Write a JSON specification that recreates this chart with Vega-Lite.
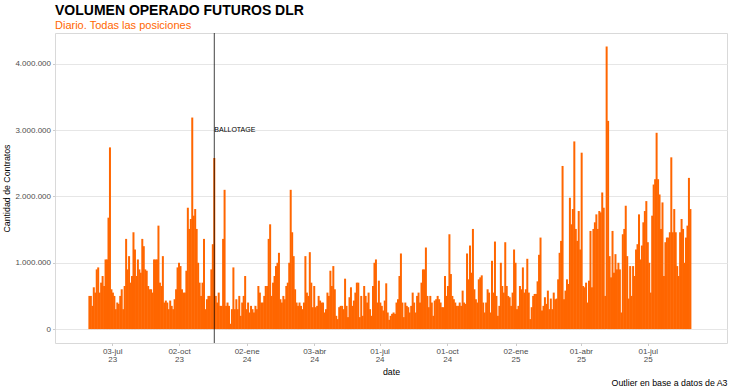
{
"$schema": "https://vega.github.io/schema/vega-lite/v6.json",
"width": 672, "height": 310,
"autosize": {"type": "none"},
"padding": {"left": 55, "top": 33, "right": 3, "bottom": 48},
"background": "white",
"title": {"text": "VOLUMEN OPERADO FUTUROS DLR", "subtitle": "Diario. Todas las posiciones", "anchor": "start", "frame": "group", "font": "Liberation Sans", "fontSize": 14, "fontWeight": "bold", "color": "#000000", "subtitleFont": "Liberation Sans", "subtitleFontSize": 11, "subtitleColor": "#ff6600", "subtitlePadding": 2, "offset": 2},
"config": {
  "font": "Liberation Sans",
  "view": {"stroke": "#d9d9d9", "strokeWidth": 1},
  "locale": {
    "number": {"decimal": ",", "thousands": ".", "grouping": [3], "currency": ["$", ""]},
    "time": {"dateTime": "%A, %e de %B de %Y, %X", "date": "%d/%m/%Y", "time": "%H:%M:%S", "periods": ["AM", "PM"],
      "days": ["domingo", "lunes", "martes", "miércoles", "jueves", "viernes", "sábado"],
      "shortDays": ["dom", "lun", "mar", "mié", "jue", "vie", "sáb"],
      "months": ["enero", "febrero", "marzo", "abril", "mayo", "junio", "julio", "agosto", "septiembre", "octubre", "noviembre", "diciembre"],
      "shortMonths": ["ene", "feb", "mar", "abr", "may", "jun", "jul", "ago", "sep", "oct", "nov", "dic"]}
  }
},
"resolve": {"axis": {"x": "independent"}},
"layer": [
{
  "data": {"values": [
{"d":"2023-06-02","v":500000},{"d":"2023-06-04","v":500000},{"d":"2023-06-06","v":350000},{"d":"2023-06-08","v":630000},{"d":"2023-06-10","v":550000},{"d":"2023-06-12","v":900000},{"d":"2023-06-14","v":930000},{"d":"2023-06-16","v":550000},{"d":"2023-06-18","v":700000},{"d":"2023-06-20","v":800000},{"d":"2023-06-22","v":650000},{"d":"2023-06-24","v":1050000},{"d":"2023-06-26","v":1050000},{"d":"2023-06-28","v":1680000},{"d":"2023-06-30","v":2740000},
{"d":"2023-07-02","v":600000},{"d":"2023-07-04","v":550000},{"d":"2023-07-06","v":500000},{"d":"2023-07-08","v":300000},{"d":"2023-07-10","v":400000},{"d":"2023-07-12","v":380000},{"d":"2023-07-14","v":500000},{"d":"2023-07-16","v":600000},{"d":"2023-07-18","v":300000},{"d":"2023-07-20","v":650000},{"d":"2023-07-22","v":1360000},{"d":"2023-07-24","v":900000},{"d":"2023-07-26","v":1100000},{"d":"2023-07-28","v":700000},{"d":"2023-07-30","v":800000},
{"d":"2023-08-01","v":1460000},{"d":"2023-08-03","v":1200000},{"d":"2023-08-05","v":800000},{"d":"2023-08-07","v":1050000},{"d":"2023-08-09","v":900000},{"d":"2023-08-11","v":850000},{"d":"2023-08-13","v":1360000},{"d":"2023-08-15","v":1250000},{"d":"2023-08-17","v":900000},{"d":"2023-08-19","v":880000},{"d":"2023-08-21","v":650000},{"d":"2023-08-23","v":600000},{"d":"2023-08-25","v":600000},{"d":"2023-08-27","v":550000},{"d":"2023-08-29","v":1050000},{"d":"2023-08-31","v":1050000},
{"d":"2023-09-02","v":1050000},{"d":"2023-09-04","v":1560000},{"d":"2023-09-06","v":700000},{"d":"2023-09-08","v":650000},{"d":"2023-09-10","v":1100000},{"d":"2023-09-12","v":400000},{"d":"2023-09-14","v":430000},{"d":"2023-09-16","v":400000},{"d":"2023-09-18","v":300000},{"d":"2023-09-20","v":430000},{"d":"2023-09-22","v":350000},{"d":"2023-09-24","v":300000},{"d":"2023-09-26","v":450000},{"d":"2023-09-28","v":600000},{"d":"2023-09-30","v":930000},
{"d":"2023-10-02","v":1000000},{"d":"2023-10-04","v":950000},{"d":"2023-10-06","v":600000},{"d":"2023-10-08","v":550000},{"d":"2023-10-10","v":550000},{"d":"2023-10-12","v":880000},{"d":"2023-10-14","v":1830000},{"d":"2023-10-16","v":1510000},{"d":"2023-10-18","v":1660000},{"d":"2023-10-20","v":3190000},{"d":"2023-10-22","v":1710000},{"d":"2023-10-24","v":1810000},{"d":"2023-10-26","v":1510000},{"d":"2023-10-28","v":1000000},{"d":"2023-10-30","v":700000},
{"d":"2023-11-01","v":500000},{"d":"2023-11-03","v":700000},{"d":"2023-11-05","v":1360000},{"d":"2023-11-07","v":300000},{"d":"2023-11-09","v":450000},{"d":"2023-11-11","v":500000},{"d":"2023-11-13","v":500000},{"d":"2023-11-15","v":900000},{"d":"2023-11-17","v":1280000},{"d":"2023-11-19","v":2580000},{"d":"2023-11-21","v":500000},{"d":"2023-11-23","v":400000},{"d":"2023-11-25","v":550000},{"d":"2023-11-27","v":350000},{"d":"2023-11-29","v":350000},
{"d":"2023-12-01","v":1360000},{"d":"2023-12-03","v":2100000},{"d":"2023-12-05","v":350000},{"d":"2023-12-07","v":400000},{"d":"2023-12-09","v":350000},{"d":"2023-12-11","v":80000},{"d":"2023-12-13","v":300000},{"d":"2023-12-15","v":930000},{"d":"2023-12-17","v":300000},{"d":"2023-12-19","v":450000},{"d":"2023-12-21","v":300000},{"d":"2023-12-23","v":500000},{"d":"2023-12-25","v":200000},{"d":"2023-12-27","v":400000},{"d":"2023-12-29","v":500000},{"d":"2023-12-31","v":800000},
{"d":"2024-01-02","v":300000},{"d":"2024-01-04","v":400000},{"d":"2024-01-06","v":250000},{"d":"2024-01-08","v":350000},{"d":"2024-01-10","v":300000},{"d":"2024-01-12","v":250000},{"d":"2024-01-14","v":350000},{"d":"2024-01-16","v":300000},{"d":"2024-01-18","v":650000},{"d":"2024-01-20","v":550000},{"d":"2024-01-22","v":400000},{"d":"2024-01-24","v":400000},{"d":"2024-01-26","v":500000},{"d":"2024-01-28","v":650000},{"d":"2024-01-30","v":650000},
{"d":"2024-02-01","v":1360000},{"d":"2024-02-03","v":1580000},{"d":"2024-02-05","v":500000},{"d":"2024-02-07","v":700000},{"d":"2024-02-09","v":800000},{"d":"2024-02-11","v":950000},{"d":"2024-02-13","v":1000000},{"d":"2024-02-15","v":1150000},{"d":"2024-02-17","v":450000},{"d":"2024-02-19","v":400000},{"d":"2024-02-21","v":500000},{"d":"2024-02-23","v":450000},{"d":"2024-02-25","v":650000},{"d":"2024-02-27","v":700000},{"d":"2024-02-29","v":1000000},
{"d":"2024-03-02","v":2100000},{"d":"2024-03-04","v":1460000},{"d":"2024-03-06","v":1100000},{"d":"2024-03-08","v":600000},{"d":"2024-03-10","v":400000},{"d":"2024-03-12","v":350000},{"d":"2024-03-14","v":400000},{"d":"2024-03-16","v":350000},{"d":"2024-03-18","v":300000},{"d":"2024-03-20","v":400000},{"d":"2024-03-22","v":1100000},{"d":"2024-03-24","v":550000},{"d":"2024-03-26","v":500000},{"d":"2024-03-28","v":1160000},{"d":"2024-03-30","v":700000},
{"d":"2024-04-01","v":330000},{"d":"2024-04-03","v":650000},{"d":"2024-04-05","v":330000},{"d":"2024-04-07","v":350000},{"d":"2024-04-09","v":500000},{"d":"2024-04-11","v":430000},{"d":"2024-04-13","v":400000},{"d":"2024-04-15","v":400000},{"d":"2024-04-17","v":250000},{"d":"2024-04-19","v":300000},{"d":"2024-04-21","v":550000},{"d":"2024-04-23","v":500000},{"d":"2024-04-25","v":880000},{"d":"2024-04-27","v":650000},{"d":"2024-04-29","v":950000},
{"d":"2024-05-01","v":600000},{"d":"2024-05-03","v":200000},{"d":"2024-05-05","v":150000},{"d":"2024-05-07","v":330000},{"d":"2024-05-09","v":350000},{"d":"2024-05-11","v":350000},{"d":"2024-05-13","v":300000},{"d":"2024-05-15","v":760000},{"d":"2024-05-17","v":350000},{"d":"2024-05-19","v":180000},{"d":"2024-05-21","v":480000},{"d":"2024-05-23","v":630000},{"d":"2024-05-25","v":350000},{"d":"2024-05-27","v":430000},{"d":"2024-05-29","v":550000},{"d":"2024-05-31","v":700000},
{"d":"2024-06-02","v":700000},{"d":"2024-06-04","v":180000},{"d":"2024-06-06","v":500000},{"d":"2024-06-08","v":200000},{"d":"2024-06-10","v":650000},{"d":"2024-06-12","v":500000},{"d":"2024-06-14","v":400000},{"d":"2024-06-16","v":550000},{"d":"2024-06-18","v":300000},{"d":"2024-06-20","v":200000},{"d":"2024-06-22","v":650000},{"d":"2024-06-24","v":1000000},{"d":"2024-06-26","v":1050000},{"d":"2024-06-28","v":400000},{"d":"2024-06-30","v":730000},
{"d":"2024-07-02","v":400000},{"d":"2024-07-04","v":350000},{"d":"2024-07-06","v":280000},{"d":"2024-07-08","v":430000},{"d":"2024-07-10","v":690000},{"d":"2024-07-12","v":250000},{"d":"2024-07-14","v":140000},{"d":"2024-07-16","v":200000},{"d":"2024-07-18","v":230000},{"d":"2024-07-20","v":250000},{"d":"2024-07-22","v":230000},{"d":"2024-07-24","v":400000},{"d":"2024-07-26","v":450000},{"d":"2024-07-28","v":800000},{"d":"2024-07-30","v":1140000},
{"d":"2024-08-01","v":400000},{"d":"2024-08-03","v":180000},{"d":"2024-08-05","v":400000},{"d":"2024-08-07","v":350000},{"d":"2024-08-09","v":330000},{"d":"2024-08-11","v":250000},{"d":"2024-08-13","v":350000},{"d":"2024-08-15","v":550000},{"d":"2024-08-17","v":400000},{"d":"2024-08-19","v":250000},{"d":"2024-08-21","v":500000},{"d":"2024-08-23","v":550000},{"d":"2024-08-25","v":400000},{"d":"2024-08-27","v":700000},{"d":"2024-08-29","v":900000},{"d":"2024-08-31","v":900000},
{"d":"2024-09-02","v":1230000},{"d":"2024-09-04","v":500000},{"d":"2024-09-06","v":330000},{"d":"2024-09-08","v":500000},{"d":"2024-09-10","v":400000},{"d":"2024-09-12","v":200000},{"d":"2024-09-14","v":430000},{"d":"2024-09-16","v":450000},{"d":"2024-09-18","v":500000},{"d":"2024-09-20","v":450000},{"d":"2024-09-22","v":400000},{"d":"2024-09-24","v":330000},{"d":"2024-09-26","v":330000},{"d":"2024-09-28","v":800000},{"d":"2024-09-30","v":500000},
{"d":"2024-10-02","v":650000},{"d":"2024-10-04","v":1430000},{"d":"2024-10-06","v":830000},{"d":"2024-10-08","v":500000},{"d":"2024-10-10","v":450000},{"d":"2024-10-12","v":400000},{"d":"2024-10-14","v":350000},{"d":"2024-10-16","v":350000},{"d":"2024-10-18","v":400000},{"d":"2024-10-20","v":350000},{"d":"2024-10-22","v":580000},{"d":"2024-10-24","v":400000},{"d":"2024-10-26","v":380000},{"d":"2024-10-28","v":1140000},{"d":"2024-10-30","v":750000},
{"d":"2024-11-01","v":1260000},{"d":"2024-11-03","v":850000},{"d":"2024-11-05","v":1510000},{"d":"2024-11-07","v":600000},{"d":"2024-11-09","v":450000},{"d":"2024-11-11","v":400000},{"d":"2024-11-13","v":750000},{"d":"2024-11-15","v":780000},{"d":"2024-11-17","v":810000},{"d":"2024-11-19","v":400000},{"d":"2024-11-21","v":250000},{"d":"2024-11-23","v":400000},{"d":"2024-11-25","v":600000},{"d":"2024-11-27","v":550000},{"d":"2024-11-29","v":250000},
{"d":"2024-12-01","v":1030000},{"d":"2024-12-03","v":550000},{"d":"2024-12-05","v":1320000},{"d":"2024-12-07","v":500000},{"d":"2024-12-09","v":200000},{"d":"2024-12-11","v":350000},{"d":"2024-12-13","v":1000000},{"d":"2024-12-15","v":650000},{"d":"2024-12-17","v":550000},{"d":"2024-12-19","v":1310000},{"d":"2024-12-21","v":650000},{"d":"2024-12-23","v":500000},{"d":"2024-12-25","v":480000},{"d":"2024-12-27","v":350000},{"d":"2024-12-29","v":550000},{"d":"2024-12-31","v":1200000},
{"d":"2025-01-02","v":1000000},{"d":"2025-01-04","v":300000},{"d":"2025-01-06","v":350000},{"d":"2025-01-08","v":650000},{"d":"2025-01-10","v":600000},{"d":"2025-01-12","v":930000},{"d":"2025-01-14","v":550000},{"d":"2025-01-16","v":600000},{"d":"2025-01-18","v":1060000},{"d":"2025-01-20","v":550000},{"d":"2025-01-22","v":150000},{"d":"2025-01-24","v":330000},{"d":"2025-01-26","v":500000},{"d":"2025-01-28","v":530000},{"d":"2025-01-30","v":530000},
{"d":"2025-02-01","v":720000},{"d":"2025-02-03","v":1120000},{"d":"2025-02-05","v":1380000},{"d":"2025-02-07","v":280000},{"d":"2025-02-09","v":350000},{"d":"2025-02-11","v":480000},{"d":"2025-02-13","v":380000},{"d":"2025-02-15","v":580000},{"d":"2025-02-17","v":300000},{"d":"2025-02-19","v":460000},{"d":"2025-02-21","v":300000},{"d":"2025-02-23","v":550000},{"d":"2025-02-25","v":450000},{"d":"2025-02-27","v":460000},
{"d":"2025-03-01","v":750000},{"d":"2025-03-03","v":1150000},{"d":"2025-03-05","v":1330000},{"d":"2025-03-07","v":2460000},{"d":"2025-03-09","v":450000},{"d":"2025-03-11","v":580000},{"d":"2025-03-13","v":750000},{"d":"2025-03-15","v":680000},{"d":"2025-03-17","v":1980000},{"d":"2025-03-19","v":1580000},{"d":"2025-03-21","v":1810000},{"d":"2025-03-23","v":2830000},{"d":"2025-03-25","v":1510000},{"d":"2025-03-27","v":1330000},{"d":"2025-03-29","v":1780000},{"d":"2025-03-31","v":1200000},
{"d":"2025-04-02","v":2660000},{"d":"2025-04-04","v":650000},{"d":"2025-04-06","v":630000},{"d":"2025-04-08","v":700000},{"d":"2025-04-10","v":400000},{"d":"2025-04-12","v":730000},{"d":"2025-04-14","v":1480000},{"d":"2025-04-16","v":630000},{"d":"2025-04-18","v":1510000},{"d":"2025-04-20","v":1610000},{"d":"2025-04-22","v":1730000},{"d":"2025-04-24","v":1510000},{"d":"2025-04-26","v":1780000},{"d":"2025-04-28","v":1760000},{"d":"2025-04-30","v":2060000},
{"d":"2025-05-02","v":1830000},{"d":"2025-05-04","v":500000},{"d":"2025-05-06","v":4260000},{"d":"2025-05-08","v":3140000},{"d":"2025-05-10","v":1100000},{"d":"2025-05-12","v":780000},{"d":"2025-05-14","v":1480000},{"d":"2025-05-16","v":850000},{"d":"2025-05-18","v":1130000},{"d":"2025-05-20","v":900000},{"d":"2025-05-22","v":1000000},{"d":"2025-05-24","v":900000},{"d":"2025-05-26","v":250000},{"d":"2025-05-28","v":1430000},{"d":"2025-05-30","v":1510000},
{"d":"2025-06-01","v":1860000},{"d":"2025-06-03","v":1100000},{"d":"2025-06-05","v":460000},{"d":"2025-06-07","v":950000},{"d":"2025-06-09","v":500000},{"d":"2025-06-11","v":950000},{"d":"2025-06-13","v":800000},{"d":"2025-06-15","v":1200000},{"d":"2025-06-17","v":1280000},{"d":"2025-06-19","v":1730000},{"d":"2025-06-21","v":1050000},{"d":"2025-06-23","v":1260000},{"d":"2025-06-25","v":1610000},{"d":"2025-06-27","v":1780000},{"d":"2025-06-29","v":1930000},
{"d":"2025-07-01","v":1310000},{"d":"2025-07-03","v":1000000},{"d":"2025-07-05","v":550000},{"d":"2025-07-07","v":1710000},{"d":"2025-07-09","v":2180000},{"d":"2025-07-11","v":2260000},{"d":"2025-07-13","v":2960000},{"d":"2025-07-15","v":2260000},{"d":"2025-07-17","v":2030000},{"d":"2025-07-19","v":1510000},{"d":"2025-07-21","v":1910000},{"d":"2025-07-23","v":800000},{"d":"2025-07-25","v":1310000},{"d":"2025-07-27","v":1380000},{"d":"2025-07-29","v":1380000},{"d":"2025-07-31","v":1460000},
{"d":"2025-08-02","v":2590000},{"d":"2025-08-04","v":1460000},{"d":"2025-08-06","v":1810000},{"d":"2025-08-08","v":1460000},{"d":"2025-08-10","v":950000},{"d":"2025-08-12","v":800000},{"d":"2025-08-14","v":1460000},{"d":"2025-08-16","v":1660000},{"d":"2025-08-18","v":1510000},{"d":"2025-08-20","v":1000000},{"d":"2025-08-22","v":1380000},{"d":"2025-08-24","v":1560000},{"d":"2025-08-26","v":2280000},{"d":"2025-08-28","v":1810000}
  ]},
  "mark": {"type": "bar", "color": "#ff6600", "size": 2},
  "encoding": {
    "x": {"field": "d", "type": "temporal",
      "scale": {"type": "utc", "domain": [{"year": 2023, "month": 4, "date": 23, "utc": true}, {"year": 2025, "month": 10, "date": 10, "utc": true}]},
      "axis": {"title": "date",
        "values": [{"year": 2023, "month": 7, "date": 3, "utc": true}, {"year": 2023, "month": 10, "date": 2, "utc": true}, {"year": 2024, "month": 1, "date": 2, "utc": true}, {"year": 2024, "month": 4, "date": 3, "utc": true}, {"year": 2024, "month": 7, "date": 1, "utc": true}, {"year": 2024, "month": 10, "date": 1, "utc": true}, {"year": 2025, "month": 1, "date": 2, "utc": true}, {"year": 2025, "month": 4, "date": 1, "utc": true}, {"year": 2025, "month": 7, "date": 1, "utc": true}],
        "labelExpr": "[utcFormat(datum.value, '%d-%b'), utcFormat(datum.value, '%y')]",
        "grid": false, "domain": false, "tickColor": "#cccccc", "tickSize": 2.5,
        "labelFontSize": 8, "labelColor": "#4d4d4d", "labelPadding": 2, "labelLineHeight": 8, "labelFlush": false, "labelOverlap": false,
        "titleFontSize": 8.8, "titleFontWeight": "normal", "titleColor": "#000000", "titlePadding": 4}},
    "y": {"field": "v", "type": "quantitative",
      "scale": {"domain": [-210000, 4465000], "nice": false},
      "axis": {"title": "Cantidad de Contratos", "values": [0, 500000, 1000000, 1500000, 2000000, 2500000, 3000000, 3500000, 4000000], "format": ",.0f",
        "grid": true, "gridColor": "#e6e6e6", "domain": false, "tickColor": "#cccccc", "tickSize": 2.5,
        "labelFontSize": 8, "labelColor": "#4d4d4d", "labelPadding": 2,
        "titleFontSize": 8.8, "titleFontWeight": "normal", "titleColor": "#000000", "titlePadding": 3}}
  }
},
{
  "data": {"values": [{"d": "2023-11-19", "label": "BALLOTAGE", "y": 3000000}]},
  "mark": {"type": "rule", "color": "#000000", "opacity": 0.75, "strokeWidth": 1},
  "encoding": {
    "x": {"field": "d", "type": "temporal",
      "axis": {"orient": "bottom", "title": "Outlier en base a datos de A3", "labels": false, "ticks": false, "domain": false, "grid": false,
        "titleAnchor": "end", "titlePadding": 35, "titleFontSize": 8.8, "titleFontWeight": "normal", "titleColor": "#000000"}}
  }
},
{
  "data": {"values": [{"d": "2023-11-19", "label": "BALLOTAGE", "y": 3000000}]},
  "mark": {"type": "text", "align": "left", "baseline": "middle", "fontSize": 7, "dx": 0, "color": "#000000"},
  "encoding": {
    "x": {"field": "d", "type": "temporal", "axis": null},
    "y": {"field": "y", "type": "quantitative"},
    "text": {"field": "label"}
  }
}
]
}
